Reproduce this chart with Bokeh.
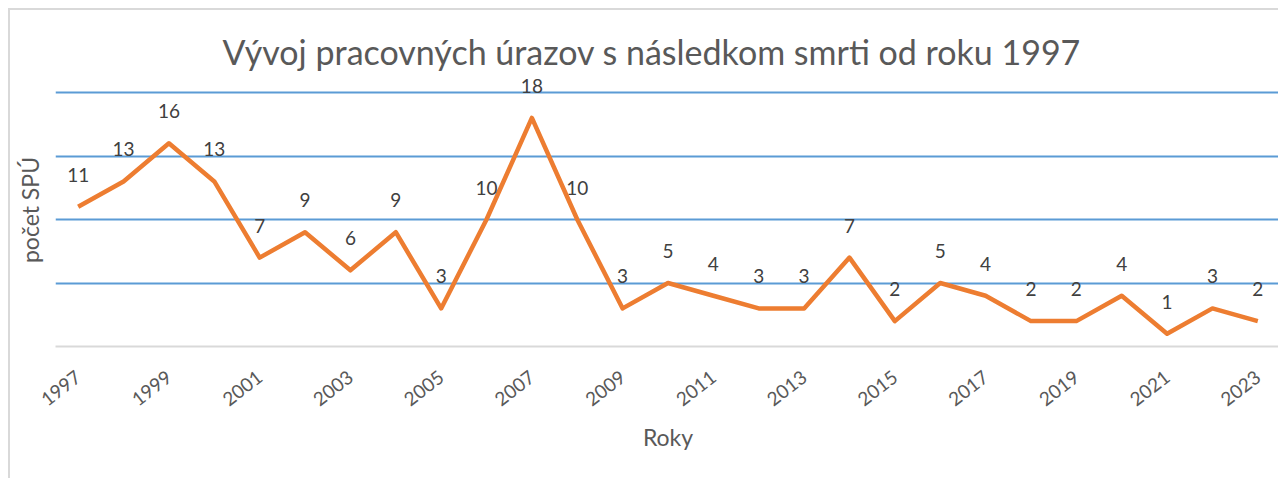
from bokeh.plotting import figure
from bokeh.models import ColumnDataSource, LabelSet, FixedTicker, Range1d
from bokeh.core.properties import value
from bokeh.embed import file_html
from bokeh.resources import INLINE

years = list(range(1997, 2024))
counts = [11, 13, 16, 13, 7, 9, 6, 9, 3, 10, 18, 10, 3, 5, 4, 3, 3, 7, 2, 5, 4, 2, 2, 4, 1, 3, 2]
tick_years = list(range(1997, 2024, 2))
grid_values = [5, 10, 15, 20]

title_text = "Vývoj pracovných úrazov s následkom smrti od roku 1997"
x_title = "Roky"
y_title = "počet SPÚ"

FONT = "Lato"

src = ColumnDataSource(dict(x=years, y=counts, lab=[str(v) for v in counts]))

p = figure(width=1270, height=470, output_backend="svg", toolbar_location=None,
           x_range=Range1d(1996.5, 2023.5), y_range=Range1d(0, 21.5),
           title=title_text,
           min_border_left=45, min_border_right=0, min_border_top=63, min_border_bottom=134)
p.styles = {"margin-left": "8px", "margin-top": "8px",
            "border-left": "2px solid #d9d9d9", "border-top": "2px solid #d9d9d9"}

p.title.align = "left"
p.title.offset = 167
p.title.text_font = FONT
p.title.text_font_size = "34px"
p.title.text_font_style = "normal"
p.title.text_color = "#595959"
p.title.standoff = 4

p.outline_line_color = None
p.background_fill_color = "white"
p.border_fill_color = "white"

p.ygrid.ticker = FixedTicker(ticks=grid_values)
p.ygrid.grid_line_color = "#5b9bd5"
p.ygrid.grid_line_width = 2
p.xgrid.grid_line_color = None

p.xaxis.ticker = FixedTicker(ticks=tick_years)
p.xaxis.major_label_orientation = 0.66
p.xaxis.major_label_text_font = FONT
p.xaxis.major_label_text_font_size = "19px"
p.xaxis.major_label_text_color = "#595959"
p.xaxis.major_tick_line_color = None
p.xaxis.minor_tick_line_color = None
p.xaxis.axis_line_color = "#d9d9d9"
p.xaxis.axis_line_width = 2
p.xaxis.major_label_standoff = 22
p.xaxis.axis_label = x_title
p.xaxis.axis_label_text_font = FONT
p.xaxis.axis_label_text_font_size = "23px"
p.xaxis.axis_label_text_font_style = "normal"
p.xaxis.axis_label_text_color = "#595959"
p.xaxis.axis_label_standoff = 7

p.yaxis.ticker = FixedTicker(ticks=[])
p.yaxis.major_tick_line_color = None
p.yaxis.minor_tick_line_color = None
p.yaxis.axis_line_color = None
p.yaxis.axis_label = y_title
p.yaxis.axis_label_text_font = FONT
p.yaxis.axis_label_text_font_size = "23px"
p.yaxis.axis_label_text_font_style = "normal"
p.yaxis.axis_label_text_color = "#595959"
p.yaxis.axis_label_standoff = 12

p.line("x", "y", source=src, line_color="#ed7d31", line_width=4.5, line_join="round")

labels = LabelSet(x="x", y="y", text="lab", source=src, text_align="center",
                  text_baseline="bottom", y_offset=25, text_font=value(FONT),
                  text_font_size="19px", text_color="#404040")
p.add_layout(labels)

open("out.html", "w").write(file_html(p, INLINE))
